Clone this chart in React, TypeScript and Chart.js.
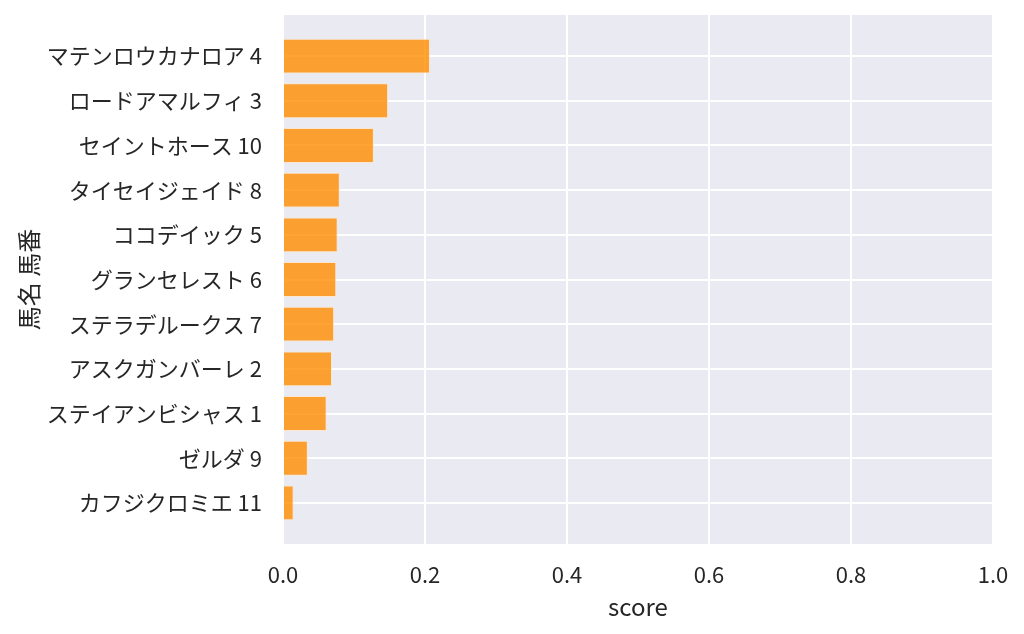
import { useEffect, useRef } from "react";
import { Chart, registerables } from "chart.js";

Chart.register(...registerables);

// horse name + number, top to bottom
const horses = [
  "マテンロウカナロア 4",
  "ロードアマルフィ 3",
  "セイントホース 10",
  "タイセイジェイド 8",
  "ココデイック 5",
  "グランセレスト 6",
  "ステラデルークス 7",
  "アスクガンバーレ 2",
  "ステイアンビシャス 1",
  "ゼルダ 9",
  "カフジクロミエ 11",
];
const scores = [0.207, 0.148, 0.128, 0.08, 0.077, 0.075, 0.072, 0.069, 0.0615, 0.035, 0.015];
const xTicks = [0, 0.2, 0.4, 0.6, 0.8, 1.0];

const FONT = "'Noto Sans CJK JP', 'Noto Sans', sans-serif";
const TEXT = "#262626";

const plotBackground = {
  id: "plotBackground",
  beforeDraw(chart: Chart) {
    const { ctx, chartArea } = chart;
    ctx.save();
    ctx.fillStyle = "#EAEAF2";
    ctx.fillRect(chartArea.left, chartArea.top, chartArea.right - chartArea.left, chartArea.bottom - chartArea.top);
    ctx.restore();
  },
};

export default function App() {
  const canvasRef = useRef<HTMLCanvasElement | null>(null);
  const chartRef = useRef<Chart | null>(null);

  useEffect(() => {
    if (!canvasRef.current) return;
    if (chartRef.current) chartRef.current.destroy();

    chartRef.current = new Chart(canvasRef.current, {
      type: "bar",
      data: {
        datasets: [
          {
            data: scores.map((v, i) => ({ x: v, y: i })),
            backgroundColor: "rgba(255,140,0,0.8)",
            borderColor: "rgba(255,230,200,0.8)",
            borderWidth: 1,
            barPercentage: 0.78,
            categoryPercentage: 1,
          },
        ],
      },
      options: {
        indexAxis: "y",
        animation: false,
        responsive: true,
        maintainAspectRatio: false,
        layout: { padding: { top: 15, right: 31, left: 0, bottom: 0 } },
        plugins: {
          legend: { display: false },
          tooltip: { enabled: false },
        },
        scales: {
          x: {
            type: "linear",
            min: 0,
            max: 1,
            afterBuildTicks: (scale: any) => {
              scale.ticks = xTicks.map((v) => ({ value: v }));
            },
            afterFit: (scale: any) => {
              scale.height = 90;
              scale.paddingLeft = 0;
              scale.paddingRight = 0;
            },
            ticks: {
              callback: (v: any) => Number(v).toFixed(1),
              color: TEXT,
              font: { family: FONT, size: 22 },
              padding: 17,
            },
            grid: { color: "#FFFFFF", lineWidth: 2, drawTicks: false },
            border: { display: false },
            title: {
              display: true,
              text: "score",
              color: TEXT,
              font: { family: FONT, size: 24 },
              padding: { top: 0, bottom: 13 },
            },
          },
          y: {
            type: "linear",
            reverse: true,
            offset: false,
            min: -0.92,
            max: 10.92,
            afterBuildTicks: (scale: any) => {
              scale.ticks = horses.map((_, i) => ({ value: i }));
            },
            afterFit: (scale: any) => {
              scale.width = 283;
              scale.paddingTop = 0;
              scale.paddingBottom = 0;
            },
            ticks: {
              callback: (v: any) => horses[v],
              color: TEXT,
              font: { family: FONT, size: 22 },
              padding: 21,
            },
            grid: { color: "#FFFFFF", lineWidth: 2, drawTicks: false, offset: false },
            border: { display: false },
            title: {
              display: true,
              text: "馬名 馬番",
              color: TEXT,
              font: { family: FONT, size: 24 },
              padding: { top: 14, bottom: 0 },
            },
          },
        },
      },
      plugins: [plotBackground],
    });

    return () => {
      if (chartRef.current) {
        chartRef.current.destroy();
        chartRef.current = null;
      }
    };
  }, []);

  return (
    <div style={{ position: "absolute", left: 0, top: 0, width: 1024, height: 634, background: "#FFFFFF" }}>
      <canvas ref={canvasRef}></canvas>
    </div>
  );
}
